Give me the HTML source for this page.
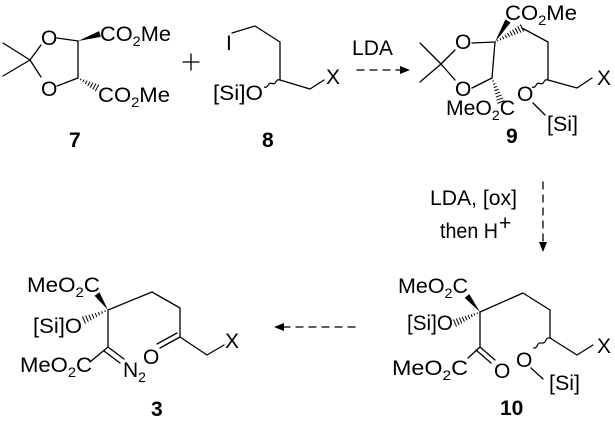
<!DOCTYPE html>
<html><head><meta charset="utf-8"><style>
html,body{margin:0;padding:0;background:#fff}
svg{display:block}
text{font-family:"Liberation Sans",Arial,sans-serif;font-size:21px;fill:#000}
.b{font-weight:bold;font-size:21px}
</style></head><body>
<svg id="s" width="615" height="422" viewBox="0 0 615 422" xmlns="http://www.w3.org/2000/svg">
<g stroke="#000" stroke-width="1.3" fill="none" stroke-linecap="round" stroke-linejoin="round">
<polyline points="3,43 30,60 3,76"/>
<line x1="30" y1="60" x2="41" y2="45"/>
<line x1="30" y1="60" x2="41" y2="77"/>
<line x1="57" y1="38" x2="78" y2="41"/>
<line x1="57" y1="86" x2="78" y2="78"/>
<line x1="78" y1="41" x2="78" y2="78"/>
<polyline points="232,33 255,26 280,42 280,80 310,89 324,80"/>
<line x1="357" y1="70" x2="402" y2="70" stroke-dasharray="7,6"/>
<polyline points="420,43 441,64 420,82"/>
<line x1="441" y1="64" x2="455" y2="50"/>
<line x1="441" y1="64" x2="455" y2="80"/>
<line x1="472" y1="43" x2="495" y2="42"/>
<line x1="472" y1="88" x2="492" y2="78"/>
<line x1="495" y1="42" x2="492" y2="78"/>
<polyline points="522,28 548,42 548,80 577,88 592,78"/>
<line x1="533" y1="103" x2="545" y2="115"/>
<line x1="543" y1="182" x2="543" y2="244" stroke-dasharray="7,6"/>
<polyline points="480,312 523,293 550,310 550,338 577,355 593,345"/>
<line x1="480" y1="312" x2="480" y2="347"/>
<line x1="480" y1="347" x2="468" y2="358"/>
<line x1="480" y1="347" x2="495" y2="360"/>
<line x1="476" y1="350" x2="491" y2="363"/>
<line x1="531" y1="368" x2="543" y2="379"/>
<line x1="355" y1="327" x2="283" y2="327" stroke-dasharray="7,6"/>
<polyline points="108,310 152,292 180,308 180,337 207,355 224,345"/>
<line x1="180" y1="337" x2="160" y2="348"/>
<line x1="177" y1="333" x2="157" y2="344"/>
<line x1="108" y1="310" x2="108" y2="347"/>
<line x1="108" y1="347" x2="90" y2="362"/>
<line x1="108" y1="347" x2="124" y2="359"/>
<line x1="104" y1="351" x2="120" y2="363"/>
<line x1="183" y1="62" x2="199" y2="62"/>
<line x1="191" y1="54" x2="191" y2="70"/>
</g>
<g fill="#000">
<polygon points="410,70 400,66 400,74"/>
<polygon points="543,252 539,242 547,242"/>
<polygon points="274,327 284,323 284,331"/>
</g>
<g id="st"></g>
<text x="100" y="41" textLength="71" lengthAdjust="spacingAndGlyphs">CO<tspan font-size="14" dy="5">2</tspan><tspan dy="-5">Me</tspan></text>
<text x="98" y="102" textLength="72" lengthAdjust="spacingAndGlyphs">CO<tspan font-size="14" dy="5">2</tspan><tspan dy="-5">Me</tspan></text>
<text x="41" y="45">O</text>
<text x="41" y="96">O</text>
<text x="226" y="50">I</text>
<text x="213" y="100" textLength="50" lengthAdjust="spacingAndGlyphs">[Si]O</text>
<text x="326" y="84">X</text>
<text x="352" y="55" textLength="41" lengthAdjust="spacingAndGlyphs">LDA</text>
<text x="69" y="147" class="b">7</text>
<text x="262" y="147" class="b">8</text>
<text x="455" y="49">O</text>
<text x="455" y="96">O</text>
<text x="505" y="20" textLength="72" lengthAdjust="spacingAndGlyphs">CO<tspan font-size="14" dy="5">2</tspan><tspan dy="-5">Me</tspan></text>
<text x="446" y="115" textLength="69" lengthAdjust="spacingAndGlyphs">MeO<tspan font-size="14" dy="5">2</tspan><tspan dy="-5">C</tspan></text>
<text x="517" y="101">O</text>
<text x="547" y="131" textLength="31" lengthAdjust="spacingAndGlyphs">[Si]</text>
<text x="597" y="85">X</text>
<text x="506" y="143" class="b">9</text>
<text x="430" y="205" textLength="87" lengthAdjust="spacingAndGlyphs">LDA, [ox]</text>
<text x="440" y="238" textLength="58" lengthAdjust="spacingAndGlyphs">then H</text><text x="499" y="230" font-size="14">+</text>
<text x="398" y="293" textLength="70" lengthAdjust="spacingAndGlyphs">MeO<tspan font-size="14" dy="5">2</tspan><tspan dy="-5">C</tspan></text>
<text x="407" y="330" textLength="46" lengthAdjust="spacingAndGlyphs">[Si]O</text>
<text x="392" y="375" textLength="76" lengthAdjust="spacingAndGlyphs">MeO<tspan font-size="14" dy="5">2</tspan><tspan dy="-5">C</tspan></text>
<text x="494" y="378">O</text>
<text x="516" y="367">O</text>
<text x="549" y="390" textLength="31" lengthAdjust="spacingAndGlyphs">[Si]</text>
<text x="597" y="353">X</text>
<text x="500" y="415" class="b">10</text>
<text x="27" y="292" textLength="73" lengthAdjust="spacingAndGlyphs">MeO<tspan font-size="14" dy="5">2</tspan><tspan dy="-5">C</tspan></text>
<text x="33" y="333" textLength="49" lengthAdjust="spacingAndGlyphs">[Si]O</text>
<text x="20" y="372" textLength="72" lengthAdjust="spacingAndGlyphs">MeO<tspan font-size="14" dy="5">2</tspan><tspan dy="-5">C</tspan></text>
<text x="123" y="377">N<tspan font-size="14" dy="5">2</tspan></text>
<text x="143" y="364">O</text>
<text x="225" y="348">X</text>
<text x="151" y="416" class="b">3</text>
</svg>
<script>
(function(){
var g=document.getElementById('st'),NS='http://www.w3.org/2000/svg';
function el(n,a){var e=document.createElementNS(NS,n);for(var k in a)e.setAttribute(k,a[k]);g.appendChild(e);return e;}
function wedge(x1,y1,x2,y2,w){var dx=x2-x1,dy=y2-y1,L=Math.hypot(dx,dy),nx=-dy/L*w/2,ny=dx/L*w/2;
el('polygon',{points:x1+','+y1+' '+(x2+nx)+','+(y2+ny)+' '+(x2-nx)+','+(y2-ny),fill:'#000'});}
function hash(x1,y1,x2,y2,w){var dx=x2-x1,dy=y2-y1,L=Math.hypot(dx,dy),n=Math.max(4,Math.round(L/3.2));
for(var i=1;i<=n;i++){var t=i/n,cx=x1+dx*t,cy=y1+dy*t,h=w/2*t+0.4,nx=-dy/L*h,ny=dx/L*h;
el('line',{x1:cx+nx,y1:cy+ny,x2:cx-nx,y2:cy-ny,stroke:'#000','stroke-width':1});}}
function wavy(x1,y1,x2,y2){var dx=x2-x1,dy=y2-y1,L=Math.hypot(dx,dy),nx=-dy/L*2,ny=dx/L*2,n=4,d='M'+x1+','+y1;
for(var i=0;i<n;i++){var t1=(i+0.5)/n,t2=(i+1)/n,s=(i%2?-1:1);
d+=' Q'+(x1+dx*t1+nx*s)+','+(y1+dy*t1+ny*s)+' '+(x1+dx*t2)+','+(y1+dy*t2);}
el('path',{d:d,fill:'none',stroke:'#000','stroke-width':1.2});}
wedge(78,41,100,34,6);hash(78,78,97,88,7);
wedge(495,42,508,21,6);hash(495,42,522,28,7);hash(492,78,501,102,7);
wedge(480,312,467,296,6);hash(480,312,455,323,7);
wedge(108,310,97,294,6);hash(108,310,84,320,7);
wavy(280,80,264,87);wavy(548,80,532,87);wavy(550,338,533,348);
})();
</script>
</body></html>
